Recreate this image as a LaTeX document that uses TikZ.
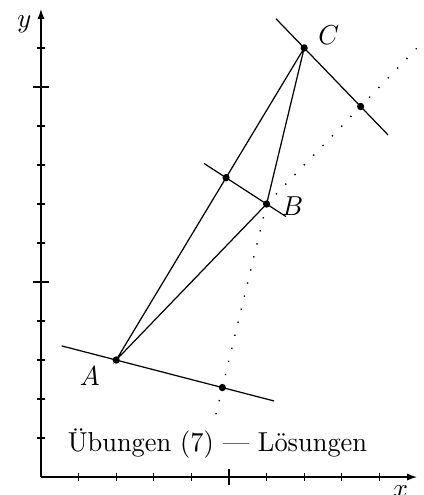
\documentclass[tikz,border=0pt]{standalone}
\usepackage{fontspec}
\usetikzlibrary{arrows.meta}
\begin{document}
\begin{tikzpicture}[x=0.5cm,y=0.5cm,xscale=0.964,
  every node/.style={transform shape},
  pt/.style={circle,fill,inner sep=0pt,minimum size=2.7pt},
  lbl/.style={inner sep=0pt,anchor=center},
  axis/.style={line width=0.45pt,-{Latex[length=3.6pt,width=2.6pt]}},
  dots/.style={line width=0.5pt,dash pattern=on 0.5pt off 4.4pt},
  seg/.style={line width=0.45pt}]
\useasboundingbox (-1.09,-0.46) rectangle (10.16,12.23);
% axes
\coordinate (O) at (0,0);
\coordinate (Xe) at (10,0);
\coordinate (Ye) at (0,12);
\draw[axis] (O) -- (Xe);
\draw[axis] (O) -- (Ye);
\foreach \i in {1,2,3,4,6,7,8,9} \draw[seg] (\i,-0.1) -- (\i,0.1);
\draw[seg] (5,-0.2) -- (5,0.2);
\foreach \i in {1,2,3,4,6,7,8,9,11} \draw[seg] (-0.11,\i) -- (0.11,\i);
\foreach \i in {5,10} \draw[seg] (-0.22,\i) -- (0.22,\i);
\node[lbl] (xl) at (9.56,-0.36) {$x$};
\node[lbl] (yl) at (-0.44,11.62) {$y$};
% points
\coordinate (A) at (2,3);
\coordinate (B) at (6,7);
\coordinate (C) at (7,11);
\coordinate (HA) at (4.8235,2.2941);
\coordinate (HB) at (4.9213,7.6742);
\coordinate (HC) at (8.5,9.5);
% altitude segment ends
\coordinate (A1) at (0.55,3.3625);
\coordinate (A2) at (6.2,1.95);
\coordinate (B1) at (4.336,8.04);
\coordinate (B2) at (6.516,6.6775);
\coordinate (C1) at (6.25,11.75);
\coordinate (C2) at (9.23,8.77);
\coordinate (D1) at (4.6,1.4);
\coordinate (D2) at (10,11);
% triangle
\draw[seg] (A) -- (B) -- (C) -- cycle;
% altitudes
\draw[seg] (A1) -- (A2);
\draw[seg] (B1) -- (B2);
\draw[seg] (C1) -- (C2);
% extensions
\draw[dots] (B) -- (D1);
\draw[dots] (B) -- (D2);
% dots
\foreach \p in {A,B,C,HA,HB,HC} \node[pt] (d\p) at (\p) {};
% labels
\node[lbl] (lA) at (1.30,2.59) {$A$};
\node[lbl] (lB) at (6.69,6.95) {$B$};
\node[lbl] (lC) at (7.65,11.33) {$C$};
\node[anchor=base west,inner sep=0pt] (title) at (0.70,0.65) {Übungen (7) — Lösungen};
\end{tikzpicture}
\end{document}
